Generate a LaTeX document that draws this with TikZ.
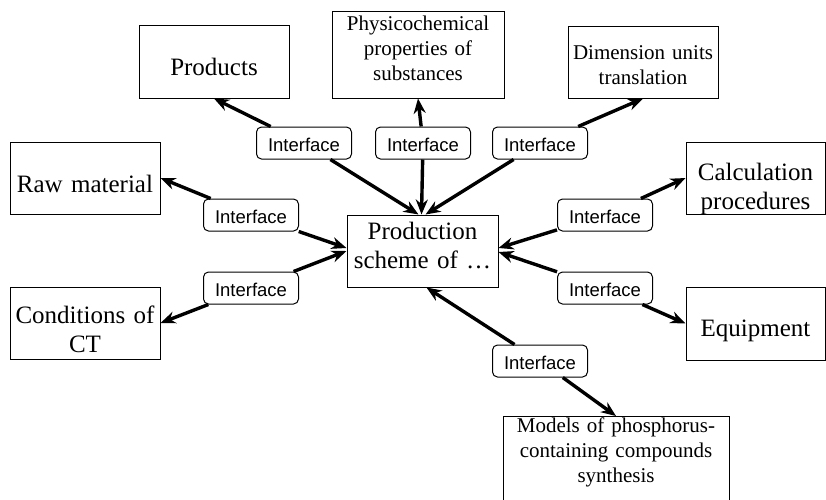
\documentclass[tikz,border=0pt]{standalone}
\usepackage{fontspec}
\setmainfont{Liberation Serif}
\newfontfamily\ifacefont{Liberation Sans}
\usetikzlibrary{arrows.meta}

\begin{document}
\begin{tikzpicture}[x=1pt,y=-1pt,
 box/.style={draw,line width=1pt,align=center,inner sep=0pt,
 font=\fontsize{25}{29}\selectfont},
 sbox/.style={box,font=\fontsize{21}{25}\selectfont},
 iface/.style={draw,line width=1pt,rounded corners=5pt,fill=white,inner sep=0pt,
 minimum width=95pt,minimum height=32pt,text height=16pt,text depth=0pt,
 font=\ifacefont\fontsize{18.5}{22}\selectfont},
 arr/.style={-{Stealth[length=15pt,width=12pt]},line width=3.4pt}]
\useasboundingbox (0,0) rectangle (826,499);
% boxes
\node[box,minimum width=151pt,minimum height=72pt,text width=149pt,text height=0pt,text depth=24pt] (main) at (422.5,251) {Production\\scheme of …};
\node[box,minimum width=150pt,minimum height=73pt,text width=148pt,text height=28pt,text depth=0pt] (prod) at (214,61.5) {Products};
\node[sbox,minimum width=172pt,minimum height=87pt,text width=170pt,text height=0pt,text depth=48pt] (phys) at (418,54.5) {Physicochemical\\properties of\\substances};
\node[sbox,minimum width=150pt,minimum height=72pt,text width=148pt,text height=0pt,text depth=5pt] (dim) at (643,62) {Dimension units\\translation};
\node[box,minimum width=150pt,minimum height=72pt,text width=148pt,text height=28pt,text depth=0pt] (raw) at (85,178) {Raw material};
\node[box,minimum width=139pt,minimum height=72pt,text width=137pt,text height=12pt,text depth=8pt] (calc) at (755.5,178) {Calculation\\procedures};
\node[box,minimum width=150pt,minimum height=72pt,text width=148pt,text height=10pt,text depth=10pt] (cond) at (85,323) {Conditions of\\CT};
\node[box,minimum width=139pt,minimum height=73pt,text width=137pt,text height=26pt,text depth=0pt] (eqp) at (755.5,323.5) {Equipment};
\node[sbox,anchor=north,text width=226pt,text height=16pt,text depth=75pt] (mod) at (616,416) {Models of phosphorus-\\containing compounds\\synthesis};
% interfaces
\node[iface] (iProd) at (304,143) {Interface};
\node[iface] (iPhys) at (423,143) {Interface};
\node[iface] (iDim) at (540,143) {Interface};
\node[iface] (iRaw) at (251,215) {Interface};
\node[iface] (iCalc) at (605,215) {Interface};
\node[iface] (iCond) at (251,288) {Interface};
\node[iface] (iEqp) at (605,288) {Interface};
\node[iface] (iMod) at (540,361) {Interface};
% links
\draw[arr] (iProd) -- (prod.south);
\draw[arr] (iProd) -- ([xshift=-4pt]main.north);
\draw[arr] (iPhys) -- (phys.south);
\draw[arr] (iPhys) -- ([xshift=-1pt]main.north);
\draw[arr] (iDim) -- (dim.south);
\draw[arr] (iDim) -- ([xshift=3pt]main.north);
\draw[arr] (iRaw) -- (raw.east);
\draw[arr] (iRaw) -- ([yshift=3pt]main.west);
\draw[arr] (iCond) -- (cond.east);
\draw[arr] (iCond) -- (main.west);
\draw[arr] (iCalc) -- (calc.west);
\draw[arr] (iCalc) -- ([yshift=3pt]main.east);
\draw[arr] (iEqp) -- (eqp.west);
\draw[arr] (iEqp) -- ([yshift=-1pt]main.east);
\draw[arr] (iMod) -- (mod.north);
\draw[arr] (iMod) -- ([xshift=4pt]main.south);
\end{tikzpicture}
\end{document}
